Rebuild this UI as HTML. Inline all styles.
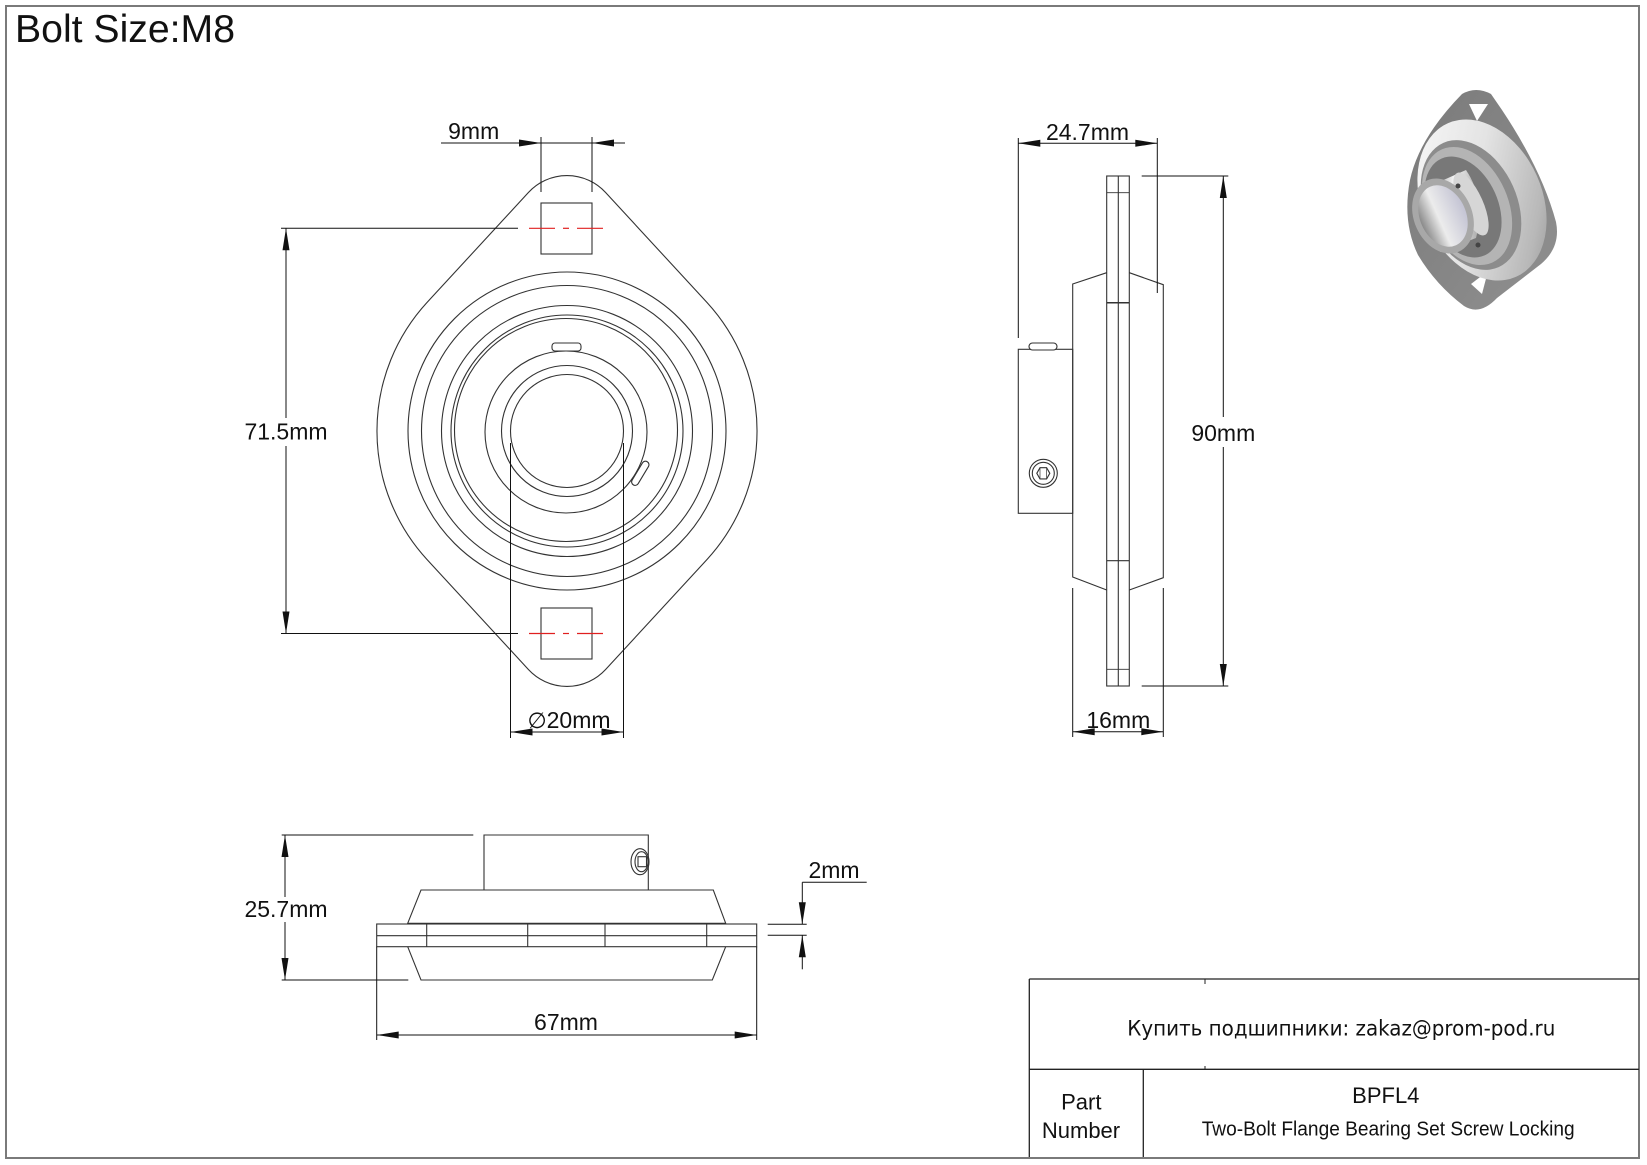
<!DOCTYPE html>
<html><head><meta charset="utf-8"><style>
html,body{margin:0;padding:0;background:#fff;}
svg{display:block;}
text{font-family:"Liberation Sans",Arial,sans-serif;fill:#111;}
</style></head><body>
<svg width="1647" height="1165" viewBox="0 0 1647 1165" xmlns="http://www.w3.org/2000/svg">
<defs>
<linearGradient id="g1" x1="0" y1="0" x2="1" y2="1"><stop offset="0" stop-color="#fafafa"/><stop offset="0.45" stop-color="#e4e4e4"/><stop offset="0.8" stop-color="#b8b8b8"/><stop offset="1" stop-color="#8a8a8a"/></linearGradient>
<linearGradient id="g2" x1="0" y1="0" x2="1" y2="0"><stop offset="0" stop-color="#9a9a9a"/><stop offset="0.5" stop-color="#f6f6f6"/><stop offset="1" stop-color="#a8a8a8"/></linearGradient>
<linearGradient id="g3" x1="0" y1="0" x2="1" y2="0"><stop offset="0" stop-color="#8a8a8a"/><stop offset="0.4" stop-color="#ececec"/><stop offset="1" stop-color="#c4c4d4"/></linearGradient>
<linearGradient id="gf" x1="0" y1="0" x2="1" y2="1"><stop offset="0" stop-color="#7a7a7a"/><stop offset="1" stop-color="#909090"/></linearGradient>
</defs>

<!-- frame -->
<rect x="6" y="6" width="1633" height="1152" fill="none" stroke="#7a7a7a" stroke-width="2"/>
<text x="15" y="42" font-size="39" textLength="220" lengthAdjust="spacingAndGlyphs">Bolt Size:M8</text>

<!-- ================= FRONT VIEW ================= -->
<g fill="none" stroke="#333" stroke-width="1.1">
<path d="M528.4,192.5 A52.5,52.5 0 0 1 605.6,192.5 L706.9,302.4 A190,190 0 0 1 706.9,559.6 L605.6,669.5 A52.5,52.5 0 0 1 528.4,669.5 L427.1,559.6 A190,190 0 0 1 427.1,302.4 Z"/>
<rect x="541" y="203" width="51" height="51"/>
<rect x="541" y="608" width="51" height="51"/>
<circle cx="567" cy="431" r="159"/>
<circle cx="567" cy="431" r="145.5"/>
<circle cx="567" cy="431" r="125.5"/>
<circle cx="567" cy="431" r="116"/>
<circle cx="566" cy="430" r="111.5"/>
<circle cx="566" cy="432" r="81"/>
<circle cx="567" cy="431" r="65.5"/>
<circle cx="567" cy="431" r="56.5"/>
<rect x="552" y="343" width="29" height="8" rx="3" fill="#fff"/>
<rect x="626.8" y="469.8" width="27" height="7" rx="3.5" fill="#fff" transform="rotate(121 640.3 473.3)"/>
</g>
<!-- red centerlines -->
<g stroke="#e02020" stroke-width="1.2">
<line x1="529" y1="228.3" x2="555" y2="228.3"/><line x1="563" y1="228.3" x2="569" y2="228.3"/><line x1="577" y1="228.3" x2="603" y2="228.3"/>
<line x1="529" y1="633.5" x2="555" y2="633.5"/><line x1="563" y1="633.5" x2="569" y2="633.5"/><line x1="577" y1="633.5" x2="603" y2="633.5"/>
</g>
<!-- front dims -->
<g stroke="#111" stroke-width="1" fill="none">
<line x1="541" y1="137" x2="541" y2="192"/><line x1="592" y1="137" x2="592" y2="192"/>
<line x1="441" y1="143" x2="625" y2="143"/>
<line x1="281" y1="228.3" x2="518" y2="228.3"/><line x1="281" y1="633.5" x2="518" y2="633.5"/>
<line x1="286" y1="228.3" x2="286" y2="418"/><line x1="286" y1="446" x2="286" y2="633.5"/>
<line x1="510.5" y1="443" x2="510.5" y2="738"/><line x1="623.5" y1="443" x2="623.5" y2="738"/>
<line x1="510.5" y1="732" x2="623.5" y2="732"/>
</g>
<g fill="#111">
<polygon points="541,143 519,139.5 519,146.5"/><polygon points="592,143 614,139.5 614,146.5"/>
<polygon points="286,228.3 282.5,250.3 289.5,250.3"/><polygon points="286,633.5 282.5,611.5 289.5,611.5"/>
<polygon points="510.5,732 532.5,728.5 532.5,735.5"/><polygon points="623.5,732 601.5,728.5 601.5,735.5"/>
</g>
<text x="473.7" y="139" font-size="23" text-anchor="middle">9mm</text>
<text x="286" y="439.5" font-size="23" text-anchor="middle">71.5mm</text>
<text x="569" y="728" font-size="23" text-anchor="middle"><tspan font-family="'DejaVu Sans',sans-serif" font-size="22">∅</tspan>20mm</text>

<!-- ================= SIDE VIEW ================= -->
<g fill="none" stroke="#333" stroke-width="1.1">
<polyline points="1106.7,272.7 1072.7,284 1072.7,577 1106.7,590"/>
<polyline points="1129.3,272.7 1163.3,284.7 1163.3,577.7 1129.3,590"/>
<rect x="1106.7" y="176" width="22.6" height="510" fill="#fff"/>
<line x1="1118.3" y1="176" x2="1118.3" y2="686"/>
<line x1="1106.7" y1="192.7" x2="1129.3" y2="192.7" stroke-width="0.8"/>
<line x1="1106.7" y1="302.7" x2="1129.3" y2="302.7" stroke-width="1.5"/>
<line x1="1106.7" y1="560.7" x2="1129.3" y2="560.7" stroke-width="1.2"/>
<line x1="1106.7" y1="669.3" x2="1129.3" y2="669.3" stroke-width="0.8"/>
<rect x="1018.3" y="349.3" width="54.4" height="164"/>
<rect x="1029" y="343" width="28" height="7" rx="3.5" fill="#fff"/>
<circle cx="1043.3" cy="473.3" r="14"/>
<circle cx="1043.3" cy="473.3" r="11"/>
<polygon points="1049.8,473.3 1046.6,478.9 1040,478.9 1036.8,473.3 1040,467.7 1046.6,467.7"/>
<line x1="1040" y1="467.7" x2="1040" y2="478.9" stroke-width="0.7"/>
<line x1="1046.6" y1="467.7" x2="1046.6" y2="478.9" stroke-width="0.7"/>
</g>
<g stroke="#111" stroke-width="1" fill="none">
<line x1="1018.3" y1="138" x2="1018.3" y2="338"/><line x1="1157.3" y1="138" x2="1157.3" y2="293"/>
<line x1="1018.3" y1="143.3" x2="1157.3" y2="143.3"/>
<line x1="1141.7" y1="176" x2="1228.3" y2="176"/><line x1="1141.7" y1="686" x2="1228.3" y2="686"/>
<line x1="1223.3" y1="176" x2="1223.3" y2="417"/><line x1="1223.3" y1="447" x2="1223.3" y2="686"/>
<line x1="1072.7" y1="588" x2="1072.7" y2="737"/><line x1="1163.3" y1="588" x2="1163.3" y2="737"/>
<line x1="1072.7" y1="731.7" x2="1163.3" y2="731.7"/>
</g>
<g fill="#111">
<polygon points="1018.3,143.3 1040.3,139.8 1040.3,146.8"/><polygon points="1157.3,143.3 1135.3,139.8 1135.3,146.8"/>
<polygon points="1223.3,176 1219.8,198 1226.8,198"/><polygon points="1223.3,686 1219.8,664 1226.8,664"/>
<polygon points="1072.7,731.7 1094.7,728.2 1094.7,735.2"/><polygon points="1163.3,731.7 1141.3,728.2 1141.3,735.2"/>
</g>
<text x="1087.5" y="140" font-size="23" text-anchor="middle">24.7mm</text>
<text x="1223.3" y="441" font-size="23" text-anchor="middle">90mm</text>
<text x="1118.3" y="728" font-size="23" text-anchor="middle">16mm</text>

<!-- ================= BOTTOM VIEW ================= -->
<g fill="none" stroke="#333" stroke-width="1.1">
<polyline points="484,890 484,835 648.3,835 648.3,890"/>
<polygon points="407.7,923.3 421,890 713.3,890 725.7,923.3"/>
<rect x="376.7" y="924" width="380" height="22.7"/>
<line x1="376.7" y1="935.7" x2="756.7" y2="935.7"/>
<line x1="426.7" y1="924" x2="426.7" y2="946.7"/>
<line x1="527.7" y1="924" x2="527.7" y2="946.7"/>
<line x1="605" y1="924" x2="605" y2="946.7"/>
<line x1="706.7" y1="924" x2="706.7" y2="946.7"/>
<polyline points="407.7,946.7 421,980 712.3,980 725.7,946.7"/>
<ellipse cx="640" cy="861.7" rx="9" ry="13"/>
<ellipse cx="641.5" cy="861.7" rx="6.5" ry="10"/>
<rect x="638" y="856.7" width="8.5" height="10"/>
</g>
<g stroke="#111" stroke-width="1" fill="none">
<line x1="281.7" y1="835" x2="473.3" y2="835"/><line x1="281.7" y1="980" x2="408.3" y2="980"/>
<line x1="285" y1="835" x2="285" y2="897"/><line x1="285" y1="922" x2="285" y2="980"/>
<line x1="376.7" y1="946.7" x2="376.7" y2="1040"/><line x1="756.7" y1="946.7" x2="756.7" y2="1040"/>
<line x1="376.7" y1="1035" x2="756.7" y2="1035"/>
<line x1="767.7" y1="924.3" x2="806.7" y2="924.3"/><line x1="767.7" y1="935.3" x2="806.7" y2="935.3"/>
<line x1="802.3" y1="882.3" x2="802.3" y2="924.3"/><line x1="802.3" y1="882.3" x2="866.7" y2="882.3"/>
<line x1="802.3" y1="935.3" x2="802.3" y2="969.3"/>
</g>
<g fill="#111">
<polygon points="285,835 281.5,857 288.5,857"/><polygon points="285,980 281.5,958 288.5,958"/>
<polygon points="376.7,1035 398.7,1031.5 398.7,1038.5"/><polygon points="756.7,1035 734.7,1031.5 734.7,1038.5"/>
<polygon points="802.3,924.3 798.8,902.3 805.8,902.3"/><polygon points="802.3,935.3 798.8,957.3 805.8,957.3"/>
</g>
<text x="286" y="917" font-size="23" text-anchor="middle">25.7mm</text>
<text x="566" y="1030" font-size="23" text-anchor="middle">67mm</text>
<text x="834" y="878" font-size="23" text-anchor="middle">2mm</text>

<!-- ================= 3D VIEW ================= -->
<g>
<path d="M1462,94 Q1476,86 1491,94 L1502,110 Q1542,170 1556,222 Q1561,247 1541,264 L1497,298 Q1480,316 1464,306 Q1436,285 1418,255 Q1402,222 1410,180 Q1419,138 1462,94 Z" fill="url(#gf)"/>
<polygon points="1469,104 1488,104 1477,121" fill="#fff"/>
<polygon points="1471,284 1488,271 1482,294" fill="#fff"/>
<ellipse cx="1482" cy="200" rx="60" ry="84" transform="rotate(-24 1482 200)" fill="url(#g1)"/>
<ellipse cx="1471" cy="205" rx="46" ry="68" transform="rotate(-24 1471 205)" fill="#8c8c8c"/>
<ellipse cx="1467" cy="206" rx="41" ry="62" transform="rotate(-24 1467 206)" fill="#b4b4b4"/>
<ellipse cx="1463" cy="207" rx="35" ry="53" transform="rotate(-24 1463 207)" fill="#787878"/>
<path d="M1430,186 L1466,170 Q1486,200 1476,238 L1440,252 Z" fill="url(#g2)"/>
<ellipse cx="1471" cy="204" rx="12" ry="34" transform="rotate(-24 1471 204)" fill="#d6d6d6"/>
<ellipse cx="1443" cy="216" rx="29" ry="39" transform="rotate(-24 1443 216)" fill="#a8a8a8"/>
<ellipse cx="1443" cy="216" rx="23" ry="32" transform="rotate(-24 1443 216)" fill="url(#g3)"/>
<circle cx="1458" cy="186" r="2.5" fill="#444"/>
<circle cx="1478" cy="245" r="2.5" fill="#444"/>
</g>

<!-- ================= TITLE BLOCK ================= -->
<g stroke="#222" stroke-width="1.3" fill="none">
<line x1="1029.3" y1="979" x2="1639" y2="979"/>
<line x1="1029.3" y1="979" x2="1029.3" y2="1157"/>
<line x1="1029.3" y1="1069.3" x2="1639" y2="1069.3"/>
<line x1="1143.3" y1="1069.3" x2="1143.3" y2="1157"/>
<line x1="1205" y1="979" x2="1205" y2="984" stroke-width="1"/>
<line x1="1205" y1="1066" x2="1205" y2="1069.3" stroke-width="1"/>
</g>
<text x="1127.3" y="1035.5" font-size="21" textLength="428" lengthAdjust="spacingAndGlyphs" style="font-family:'DejaVu Sans','Liberation Sans',sans-serif">Купить подшипники: zakaz@prom-pod.ru</text>
<text x="1081.3" y="1109.5" font-size="22" text-anchor="middle">Part</text>
<text x="1081" y="1138" font-size="22" text-anchor="middle">Number</text>
<text x="1385.8" y="1103" font-size="22" text-anchor="middle">BPFL4</text>
<text x="1201.7" y="1135.5" font-size="20" textLength="373" lengthAdjust="spacingAndGlyphs">Two-Bolt Flange Bearing Set Screw Locking</text>
</svg>
</body></html>
